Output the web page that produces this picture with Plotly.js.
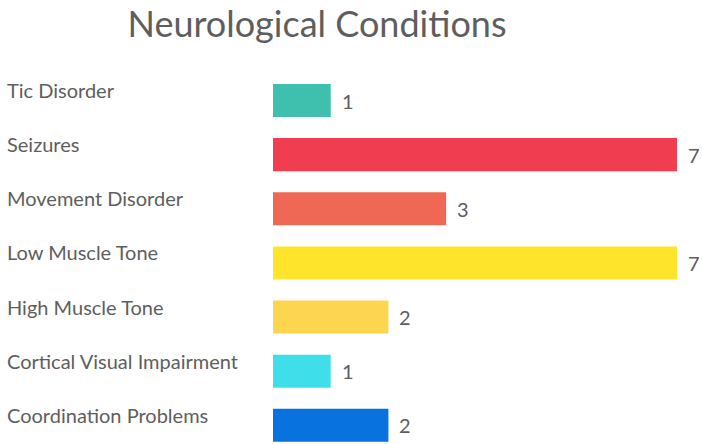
<!DOCTYPE html>
<html>
<head>
<meta charset="utf-8">
<script src="https://cdn.plot.ly/plotly-3.0.1.min.js"></script>
<style>html,body{margin:0;padding:0;background:#fff;}#chart{width:702px;height:444px;}</style>
</head>
<body>
<div id="chart"></div>
<script>
const categories = ["Tic Disorder","Seizures","Movement Disorder","Low Muscle Tone","High Muscle Tone","Cortical Visual Impairment","Coordination Problems"];
const values = [1,7,3,7,2,1,2];
const colors = ["#3fbfae","#f03e50","#ee6855","#fee52b","#fed54f","#3edfeb","#0873de"];

const FONT = "Lato, 'Noto Sans', sans-serif";
const TXT = "#5e5e5e";
const L = 273, W = 404;

const catAnn = categories.map((c) => ({
  text: c, xref: "paper", yref: "y", x: (5 - L) / W, y: c,
  xanchor: "left", yanchor: "middle", yshift: 10.5, showarrow: false,
  font: {family: FONT, size: 20, color: TXT}
}));
const valAnn = categories.map((c, i) => ({
  text: String(values[i]), xref: "x", yref: "y", x: values[i], y: c,
  xanchor: "left", yanchor: "middle", xshift: 9, yshift: 0, showarrow: false,
  font: {family: FONT, size: 20, color: TXT}
}));

Plotly.newPlot("chart", [{
  type: "bar", orientation: "h", y: categories, x: values,
  marker: {color: colors}, width: 0.61, hoverinfo: "none", cliponaxis: false
}], {
  width: 702, height: 444,
  margin: {l: L, r: 702 - L - W, t: 73, b: 0},
  paper_bgcolor: "#fff", plot_bgcolor: "#fff",
  title: {text: "Neurological Conditions", x: 317 / 702, xanchor: "center", y: 1 - 24 / 444, yanchor: "middle", yref: "container",
    font: {family: FONT, size: 36, color: TXT}},
  xaxis: {range: [0, 7], showgrid: false, zeroline: false, showticklabels: false, showline: false, fixedrange: true},
  yaxis: {type: "category", autorange: false, range: [6.346, -0.508], showgrid: false, zeroline: false, showticklabels: false, showline: false, fixedrange: true},
  annotations: catAnn.concat(valAnn),
  showlegend: false
}, {displayModeBar: false, staticPlot: true});
</script>
</body>
</html>
